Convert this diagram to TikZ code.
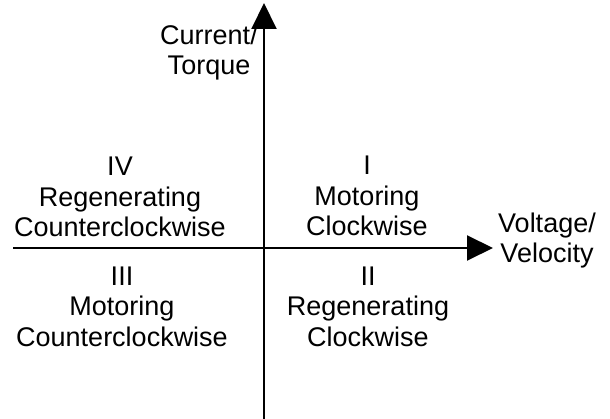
\documentclass[tikz,border=0pt]{standalone}
\usepackage{fontspec}
\setmainfont{Liberation Sans}
\usetikzlibrary{arrows.meta}
\begin{document}
\begin{tikzpicture}[x=1pt,y=-1pt,
  axis/.style={line width=2pt,-{Triangle[length=26pt,width=25pt]}},
  lbl/.style={anchor=base,align=center,inner sep=0pt,font=\fontsize{27}{30.5}\selectfont}]
\useasboundingbox (0,0) rectangle (610,419);
\coordinate (xs) at (13,248);
\coordinate (xe) at (493,248);
\coordinate (ys) at (264,419);
\coordinate (ye) at (264,3);
\draw[axis] (xs) -- (xe);
\draw[axis] (ys) -- (ye);
\node[lbl] (q1) at (367,236) {I\\Motoring\\Clockwise};
\node[lbl] (q4) at (120,237) {IV\\Regenerating\\Counterclockwise};
\node[lbl] (q3) at (122,346) {III\\Motoring\\Counterclockwise};
\node[lbl] (q2) at (368,346) {II\\Regenerating\\Clockwise};
\node[lbl] (yl) at (209,75) {Current/\\Torque};
\node[lbl] (xl) at (547,263) {Voltage/\\Velocity};
\end{tikzpicture}
\end{document}
